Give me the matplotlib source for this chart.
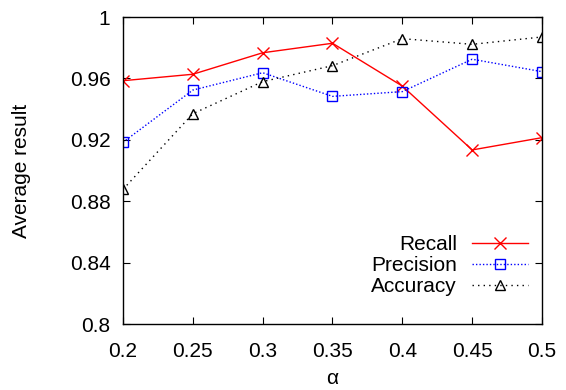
import matplotlib
matplotlib.use("Agg")
import matplotlib.pyplot as plt

plt.rcParams['font.family'] = ['Liberation Sans', 'DejaVu Sans']

alpha = [0.2, 0.25, 0.3, 0.35, 0.4, 0.45, 0.5]
recall = [0.9585, 0.9627, 0.9767, 0.9829, 0.9550, 0.9134, 0.9214]
precision = [0.9184, 0.9524, 0.9637, 0.9483, 0.9514, 0.9725, 0.9644]
accuracy = [0.8877, 0.9370, 0.9579, 0.9683, 0.9859, 0.9822, 0.9870]

xticks = [0.2, 0.25, 0.3, 0.35, 0.4, 0.45, 0.5]
xticklabels = ['0.2', '0.25', '0.3', '0.35', '0.4', '0.45', '0.5']
yticks = [0.8, 0.84, 0.88, 0.92, 0.96, 1.0]
yticklabels = ['0.8', '0.84', '0.88', '0.92', '0.96', '1']

fig = plt.figure(figsize=(5.66, 3.9), dpi=100)
ax = fig.add_axes([0.2173, 0.1692, 0.7403, 0.7872])

ax.plot(alpha, recall, color='red', lw=1, marker='x', ms=8, mew=1,
        label='Recall')
ax.plot(alpha, precision, color='blue', lw=1, ls=(0, (1, 1.5)), marker='s',
        ms=7.5, mfc='none', mew=1, label='Precision')
ax.plot(alpha, accuracy, color='black', lw=1, ls=(0, (1, 3)), marker='^',
        ms=7, mfc='none', mew=1, label='Accuracy')

ax.set_xlim(0.2, 0.5)
ax.set_ylim(0.8, 1.0)
ax.set_xticks(xticks)
ax.set_xticklabels(xticklabels)
ax.set_yticks(yticks)
ax.set_yticklabels(yticklabels)
ax.tick_params(direction='in', top=True, right=True, labelsize=15, length=5)
ax.tick_params(axis='x', pad=13)
ax.tick_params(axis='y', pad=9)
for s in ax.spines.values():
    s.set_linewidth(1)

ax.set_xlabel('α', fontsize=15, labelpad=6)
ax.set_ylabel('Average result', fontsize=15, labelpad=28)

ax.legend(loc='lower right', frameon=False, markerfirst=False, fontsize=15,
          handlelength=2.7, labelspacing=0.1, borderaxespad=0.0,
          handletextpad=0.7, bbox_to_anchor=(0.986, 0.064))

fig.savefig('out.png', dpi=100)
